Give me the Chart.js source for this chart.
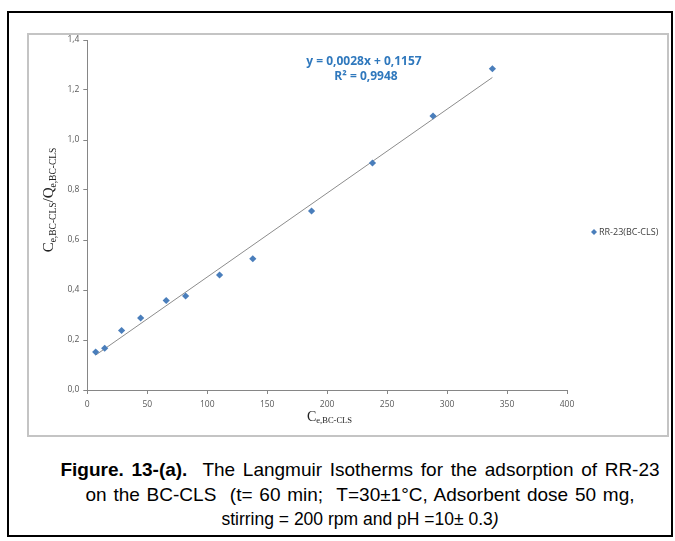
<!DOCTYPE html>
<html>
<head>
<meta charset="utf-8">
<script src="https://cdn.jsdelivr.net/npm/chart.js@4.4.1/dist/chart.umd.min.js"></script>
<style>
  html, body { margin: 0; padding: 0; background: #fff; }
  body { width: 675px; height: 541px; position: relative; overflow: hidden; }
  .frame { position: absolute; left: 7px; top: 11px; width: 666px; height: 526px; border: 2px solid #000; box-sizing: border-box; }
  .chart-box { position: absolute; left: 27px; top: 33px; width: 642px; height: 404px; border: 2px solid #c4c4c4; box-sizing: border-box; }
  .chart-wrap { position: absolute; left: 28px; top: 30px; width: 639px; height: 406px; }
  .caption { position: absolute; left: 0; top: 458px; width: 720px; text-align: center;
             font-family: "Liberation Sans", Arial, sans-serif; font-size: 19px; line-height: 24.5px; color: #000; }
  .caption div { white-space: nowrap; }
  .caption .l1 { word-spacing: 2.4px; }
  .caption .l2 { word-spacing: 1.5px; }
  .caption .l3 { font-size: 17.5px; }
</style>
</head>
<body>
<div class="frame"></div>
<div class="chart-box"></div>
<div class="chart-wrap"><canvas id="chart"></canvas></div>
<div class="caption">
  <div class="l1"><b>Figure. 13-(a).</b>&nbsp; The Langmuir Isotherms for the adsorption of RR-23</div>
  <div class="l2">on the BC-CLS&nbsp; (t= 60 min;&nbsp; T=30±1°C, Adsorbent dose 50 mg,</div>
  <div class="l3">stirring = 200 rpm and pH =10± 0.3<i>)</i></div>
</div>

<script>
'use strict';

// ─── DATA ────────────────────────────────────────────────────────────────────

const ceValues   = [7, 14.5, 28.6, 44.5, 65.8, 82, 110.3, 138, 187, 237.8, 288.3, 337.8];
const ratioVals  = [0.152, 0.167, 0.238, 0.288, 0.358, 0.376, 0.460, 0.525, 0.716, 0.908, 1.096, 1.285];
const seriesName = 'RR-23(BC-CLS)';
const xTicks     = [0, 50, 100, 150, 200, 250, 300, 350, 400];
const yTicks     = [0, 0.2, 0.4, 0.6, 0.8, 1.0, 1.2, 1.4];
const eqLines    = ['y = 0,0028x + 0,1157', 'R² = 0,9948'];

// ─── TRENDLINE (least squares sobre os pontos) ───────────────────────────────

function linearFit(xs, ys) {
  const n  = xs.length;
  const mx = xs.reduce((a, b) => a + b, 0) / n;
  const my = ys.reduce((a, b) => a + b, 0) / n;
  let sxy = 0, sxx = 0;
  xs.forEach((x, i) => { sxy += (x - mx) * (ys[i] - my); sxx += (x - mx) * (x - mx); });
  const m = sxy / sxx;
  return { m, b: my - m * mx };
}

const fit    = linearFit(ceValues, ratioVals);
const xMin   = Math.min(...ceValues);
const xMax   = Math.max(...ceValues);
const trend  = [xMin, xMax].map(x => ({ x, y: fit.m * x + fit.b }));
const points = ceValues.map((x, i) => ({ x, y: ratioVals[i] }));

// ─── HELPERS ─────────────────────────────────────────────────────────────────

const AXIS_GREY = '#868686';
const TICK_TXT  = '#595959';
const BLUE      = '#4a7ebb';
const SERIF     = '"Liberation Serif", "Times New Roman", serif';

// texto com subscrito: partes [{t, sub}]
function drawParts(ctx, parts, x, y, big, small) {
  let cx = x;
  parts.forEach(p => {
    ctx.font = `${p.sub ? small : big}px ${SERIF}`;
    ctx.fillText(p.t, cx, p.sub ? y + big * 0.28 : y);
    cx += ctx.measureText(p.t).width;
  });
}

function partsWidth(ctx, parts, big, small) {
  return parts.reduce((w, p) => {
    ctx.font = `${p.sub ? small : big}px ${SERIF}`;
    return w + ctx.measureText(p.t).width;
  }, 0);
}

const annotations = {
  id: 'annotations',
  afterDraw(chart) {
    const { ctx } = chart;
    ctx.save();
    ctx.fillStyle = '#222';
    ctx.textBaseline = 'middle';
    ctx.textAlign = 'left';

    // título eixo X
    const xParts = [{ t: 'C' }, { t: 'e,BC-CLS', sub: true }];
    drawParts(ctx, xParts, 279, 387, 14, 8.5);

    // título eixo Y (rotacionado)
    const yParts = [{ t: 'C' }, { t: 'e,BC-CLS', sub: true }, { t: '/Q' }, { t: 'e,BC-CLS', sub: true }];
    const yw = partsWidth(ctx, yParts, 15, 9.5);
    ctx.save();
    ctx.translate(21, 170);
    ctx.rotate(-Math.PI / 2);
    drawParts(ctx, yParts, -yw / 2, 0, 15, 9.5);
    ctx.restore();

    // equação da reta
    ctx.fillStyle = '#2f78bd';
    ctx.font = 'bold 12px "Open Sans", sans-serif';
    ctx.textAlign = 'center';
    ctx.fillText(eqLines[0], 336, 32);
    ctx.fillText(eqLines[1], 338, 47);

    // legenda
    const lx = 566, ly = 202;
    ctx.fillStyle = BLUE;
    ctx.beginPath();
    ctx.moveTo(lx, ly - 3); ctx.lineTo(lx + 3, ly); ctx.lineTo(lx, ly + 3); ctx.lineTo(lx - 3, ly);
    ctx.closePath(); ctx.fill();
    ctx.fillStyle = '#404040';
    ctx.textAlign = 'left';
    ctx.font = '9px "Open Sans", sans-serif';
    ctx.fillText(seriesName, lx + 5, ly);
    ctx.restore();
  }
};

// ─── CHART ───────────────────────────────────────────────────────────────────

new Chart(document.getElementById('chart'), {
  type: 'scatter',
  data: {
    datasets: [
      {
        label: 'Linear',
        data: trend,
        showLine: true,
        borderColor: '#8c8c8c',
        borderWidth: 1,
        pointRadius: 0,
        order: 2,
      },
      {
        label: seriesName,
        data: points,
        pointStyle: 'rectRot',
        pointRadius: 3.6,
        backgroundColor: BLUE,
        borderColor: BLUE,
        borderWidth: 0,
        order: 1,
      },
    ],
  },
  options: {
    responsive: true,
    maintainAspectRatio: false,
    animation: false,
    layout: { padding: { top: 10, right: 100, left: 0, bottom: 0 } },
    plugins: { legend: { display: false }, tooltip: { enabled: false } },
    scales: {
      x: {
        type: 'linear',
        min: xTicks[0],
        max: xTicks[xTicks.length - 1],
        afterBuildTicks: s => { s.ticks = xTicks.map(v => ({ value: v })); },
        afterFit: s => { s.height = 46; s.paddingLeft = 0; s.paddingRight = 0; },
        border: { color: AXIS_GREY, width: 1 },
        grid: { drawOnChartArea: false, drawTicks: true, tickLength: 4, color: AXIS_GREY },
        ticks: { color: TICK_TXT, padding: 5, maxRotation: 0, font: { family: 'Open Sans', size: 8.5 } },
      },
      y: {
        type: 'linear',
        min: yTicks[0],
        max: yTicks[yTicks.length - 1],
        afterBuildTicks: s => { s.ticks = yTicks.map(v => ({ value: v })); },
        afterFit: s => { s.width = 59.3; s.paddingTop = 0; s.paddingBottom = 0; },
        border: { color: AXIS_GREY, width: 1 },
        grid: { drawOnChartArea: false, drawTicks: true, tickLength: 4, color: AXIS_GREY },
        ticks: {
          color: TICK_TXT,
          padding: 4,
          font: { family: 'Open Sans', size: 8.5 },
          callback: v => v.toFixed(1).replace('.', ','),
        },
      },
    },
  },
  plugins: [annotations],
});
</script>
</body>
</html>
